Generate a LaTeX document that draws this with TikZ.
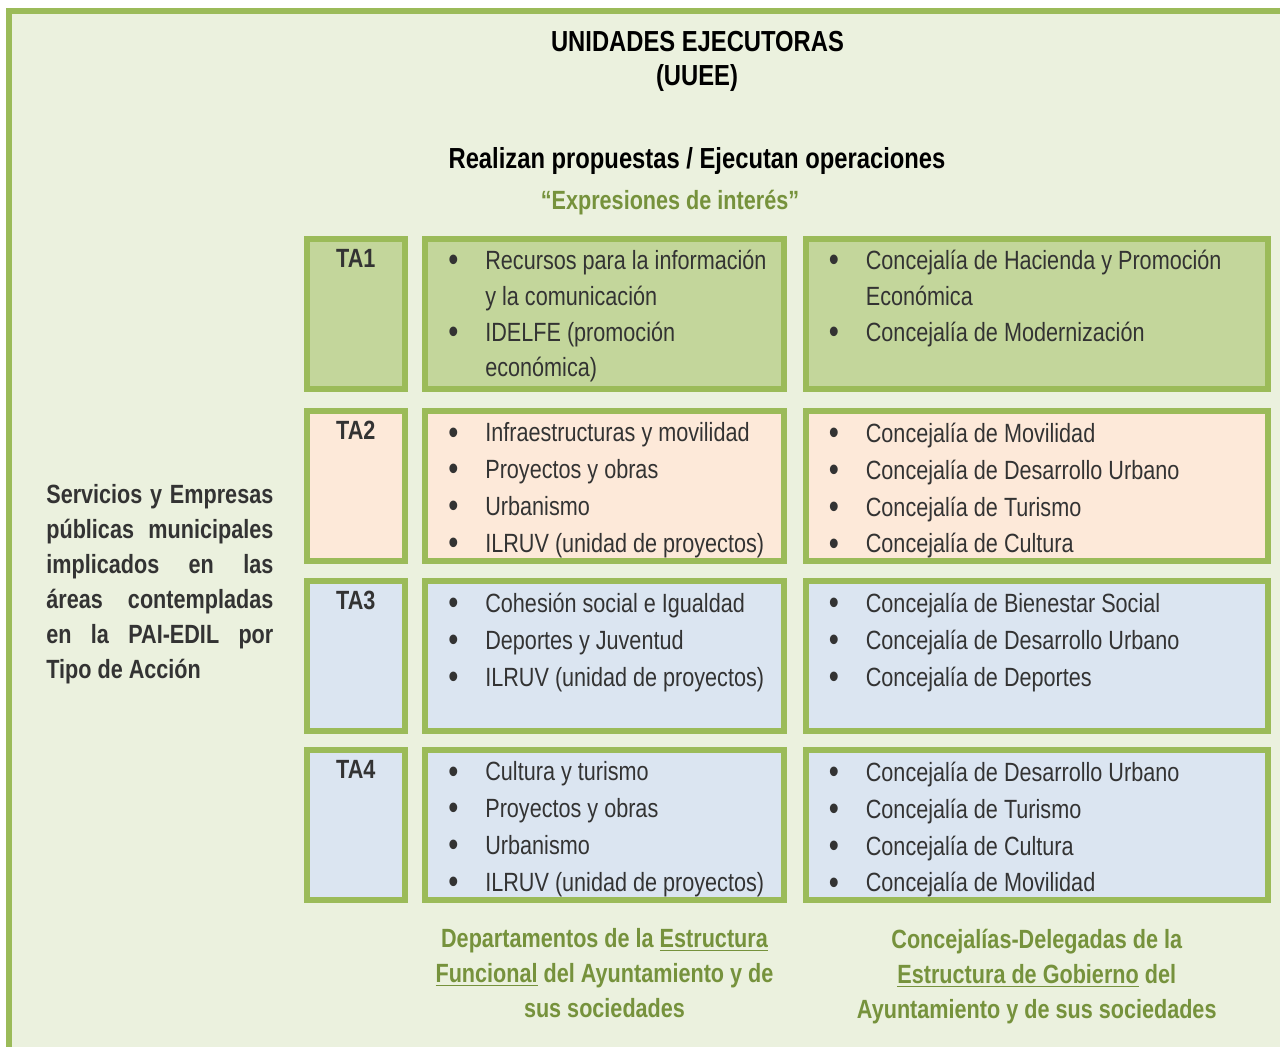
\documentclass[tikz,border=0pt]{standalone}
\usepackage{fontspec}
\setmainfont{Liberation Sans}[FakeStretch=0.82]
\usepackage{xcolor}
\usepackage{tikz}
\usetikzlibrary{positioning}
\definecolor{UEFrame}{HTML}{9BBB59}
\definecolor{UEBack}{HTML}{EBF1DE}
\definecolor{UEOlive}{HTML}{C3D69B}
\definecolor{UEPeach}{HTML}{FDE9D9}
\definecolor{UEBlue}{HTML}{DBE5F1}
\definecolor{UECaption}{HTML}{76923C}
\definecolor{UEText}{HTML}{333333}

\newcommand{\itm}{\makebox[0.74cm][l]{\raisebox{-0.08em}{\fontsize{20}{20}\selectfont\textbullet}}}
\newcommand{\cnt}{\hspace*{0.74cm}}
\newcommand{\bodyfont}{\fontsize{15}{21}\selectfont}

\tikzset{
  cell/.style={draw=UEFrame,line width=0.12cm,inner sep=0pt,outer sep=0pt,anchor=north west,minimum height=3cm},
  tacell/.style={cell,minimum width=1.954cm},
  depcell/.style={cell,minimum width=7.18cm},
  concell/.style={cell,minimum width=9.25cm},
  items/.style={inner sep=0pt,align=left,font=\bodyfont,text=UEText,execute at begin node=\strut},
  talabel/.style={inner sep=0pt,font=\bodyfont\bfseries,text=UEText,execute at begin node=\strut},
  heading/.style={inner sep=0pt,anchor=base,font=\fontsize{16.5}{19.4}\selectfont\bfseries},
  caption/.style={inner sep=0pt,align=center,font=\fontsize{15}{19.9}\selectfont\bfseries,text=UECaption,execute at begin node=\strut},
}

\begin{document}
\begin{tikzpicture}[x=1cm,y=1cm]
\path[use as bounding box] (0,0) rectangle (25.60,20.94);
\clip (0,0) rectangle (25.60,20.94);
\fill[UEBack] (0.18,-1) rectangle (26.50,20.72);
\draw[UEFrame,line width=0.12cm] (0.18,-1) -- (0.18,20.72) -- (26.50,20.72);

% headings
\node[heading] (title) at (13.95,19.906) {UNIDADES EJECUTORAS};
\node[heading] (uuee) at (13.94,19.23) {(UUEE)};
\node[heading] (realizan) at (13.94,17.574) {Realizan propuestas / Ejecutan operaciones};
\node[heading,font=\fontsize{15}{19}\selectfont\bfseries,text=UECaption] (expr) at (13.40,16.74) {“Expresiones de interés”};

% left text
\node[anchor=north west,inner sep=0pt,text width=4.54cm,align=justify,text=UEText,
  font=\fontsize{15}{19.92}\selectfont\bfseries,execute at begin node=\strut] (servicios) at (0.92,11.364)
  {Servicios y Empresas\linebreak públicas municipales\linebreak implicados en las\linebreak áreas contempladas\linebreak en la PAI-EDIL por\linebreak Tipo de Acción};

% row TA1
\node[tacell,fill=UEOlive] (ta1) at (6.14,16.16) {};
\node[depcell,fill=UEOlive] (dep1) at (8.50,16.16) {};
\node[concell,fill=UEOlive] (con1) at (16.11,16.16) {};
% row TA2
\node[tacell,fill=UEPeach] (ta2) at (6.14,12.72) {};
\node[depcell,fill=UEPeach] (dep2) at (8.50,12.72) {};
\node[concell,fill=UEPeach] (con2) at (16.11,12.72) {};
% row TA3
\node[tacell,fill=UEBlue] (ta3) at (6.14,9.32) {};
\node[depcell,fill=UEBlue] (dep3) at (8.50,9.32) {};
\node[concell,fill=UEBlue] (con3) at (16.11,9.32) {};
% row TA4
\node[tacell,fill=UEBlue] (ta4) at (6.14,5.94) {};
\node[depcell,fill=UEBlue] (dep4) at (8.50,5.94) {};
\node[concell,fill=UEBlue] (con4) at (16.11,5.94) {};

\foreach \r in {1,...,4}
  \node[talabel,below=0.05cm of ta\r.north] (lab\r) {TA\r};

\node[items,font=\fontsize{15}{20.3}\selectfont,below right=0.22cm and 0.46cm of dep1.north west] (deptxt1)
  {\itm Recursos para la información\\ \cnt y la comunicación\\ \itm IDELFE (promoción\\ \cnt económica)};
\node[items,font=\fontsize{15}{20.3}\selectfont,below right=0.22cm and 0.46cm of con1.north west] (contxt1)
  {\itm Concejalía de Hacienda y Promoción\\ \cnt Económica\\ \itm Concejalía de Modernización};

\node[items,below right=0.23cm and 0.46cm of dep2.north west] (deptxt2)
  {\itm Infraestructuras y movilidad\\ \itm Proyectos y obras\\ \itm Urbanismo\\ \itm ILRUV (unidad de proyectos)};
\node[items,below right=0.23cm and 0.46cm of con2.north west] (contxt2)
  {\itm Concejalía de Movilidad\\ \itm Concejalía de Desarrollo Urbano\\ \itm Concejalía de Turismo\\ \itm Concejalía de Cultura};

\node[items,below right=0.23cm and 0.46cm of dep3.north west] (deptxt3)
  {\itm Cohesión social e Igualdad\\ \itm Deportes y Juventud\\ \itm ILRUV (unidad de proyectos)};
\node[items,below right=0.23cm and 0.46cm of con3.north west] (contxt3)
  {\itm Concejalía de Bienestar Social\\ \itm Concejalía de Desarrollo Urbano\\ \itm Concejalía de Deportes};

\node[items,below right=0.23cm and 0.46cm of dep4.north west] (deptxt4)
  {\itm Cultura y turismo\\ \itm Proyectos y obras\\ \itm Urbanismo\\ \itm ILRUV (unidad de proyectos)};
\node[items,below right=0.23cm and 0.46cm of con4.north west] (contxt4)
  {\itm Concejalía de Desarrollo Urbano\\ \itm Concejalía de Turismo\\ \itm Concejalía de Cultura\\ \itm Concejalía de Movilidad};

% captions
\node[caption,below=0.57cm of dep4.south] (funcional)
  {Departamentos de la \underline{Estructura}\\ \underline{Funcional} del Ayuntamiento y de\\ sus sociedades};
\node[caption,below=0.57cm of con4.south] (gobierno)
  {Concejalías-Delegadas de la\\ \underline{Estructura de Gobierno} del\\ Ayuntamiento y de sus sociedades};
\end{tikzpicture}
\end{document}
